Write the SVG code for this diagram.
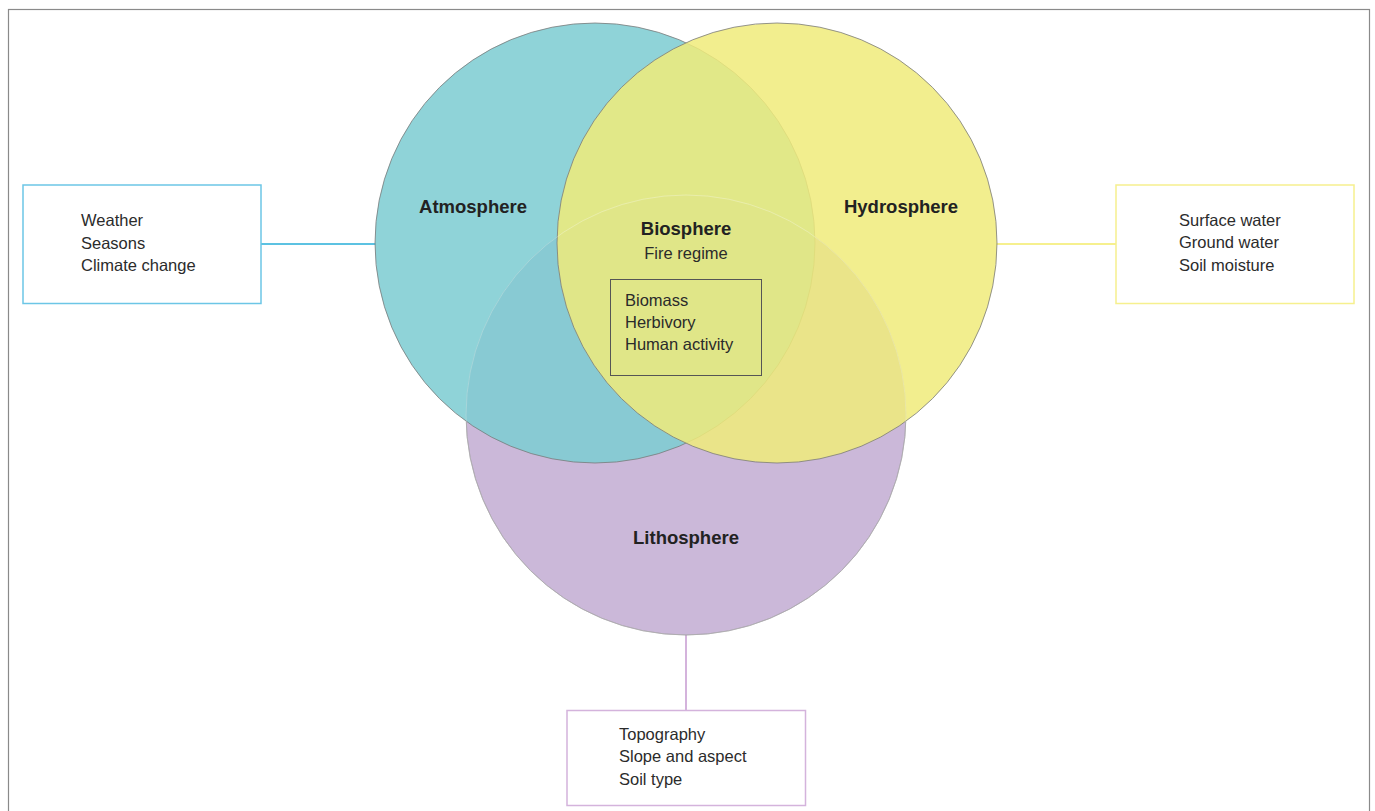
<svg xmlns="http://www.w3.org/2000/svg" width="1375" height="811" viewBox="0 0 1375 811">
<style>
.t{font-family:"Liberation Sans",Arial,sans-serif;font-size:16.5px;fill:#2b2b2b}
.b{font-family:"Liberation Sans",Arial,sans-serif;font-size:18.5px;font-weight:bold;fill:#222;text-anchor:middle}
.c{stroke:#7a7a7a;stroke-width:0.8}
</style>
<rect x="8.5" y="9.5" width="1361" height="830" fill="#fff" stroke="#8a8a8a" stroke-width="1.2"/>
<g id="connectors" fill="none" stroke-width="2">
<line x1="261" y1="244" x2="376" y2="244" stroke="#5cc2e2"/>
<line x1="996" y1="244" x2="1116" y2="244" stroke="#f6f08e"/>
<line x1="686" y1="634" x2="686" y2="710" stroke="#d4b3dc"/>
</g>
<g id="lithosphere">
<circle cx="686" cy="415" r="220" fill="#cbb8d9" class="c"/>
</g>
<g id="atmosphere">
<circle cx="595" cy="243" r="220" fill="#7ecdd2" fill-opacity="0.87" class="c"/>
</g>
<g id="hydrosphere">
<circle cx="777" cy="243" r="220" fill="#f0eb7a" fill-opacity="0.85" class="c"/>
</g>
<circle cx="686" cy="415" r="220" fill="none" stroke="#ffffff" stroke-opacity="0.3" stroke-width="1"/>
<g id="labels">
<text class="b" x="473" y="213">Atmosphere</text>
<text class="b" x="901" y="213">Hydrosphere</text>
<text class="b" x="686" y="544">Lithosphere</text>
</g>
<g id="biosphere">
<text class="b" x="686" y="235">Biosphere</text>
<text class="t" x="686" y="259" text-anchor="middle">Fire regime</text>
<rect x="610.5" y="279.5" width="151" height="96" fill="none" stroke="#555" stroke-width="1"/>
<text class="t" x="625" y="306">Biomass</text>
<text class="t" x="625" y="328">Herbivory</text>
<text class="t" x="625" y="350">Human activity</text>
</g>
<g id="atmosphere-box">
<rect x="23" y="185" width="238" height="118.5" fill="#fff" stroke="#6cc6e6" stroke-width="1.5"/>
<text class="t" x="81" y="226">Weather</text>
<text class="t" x="81" y="248.5">Seasons</text>
<text class="t" x="81" y="271">Climate change</text>
</g>
<g id="hydrosphere-box">
<rect x="1116" y="185" width="238" height="118.5" fill="#fff" stroke="#f6f08e" stroke-width="1.5"/>
<text class="t" x="1179" y="226">Surface water</text>
<text class="t" x="1179" y="248">Ground water</text>
<text class="t" x="1179" y="270.5">Soil moisture</text>
</g>
<g id="lithosphere-box">
<rect x="567" y="710.5" width="238.5" height="95" fill="#fff" stroke="#d4b3dc" stroke-width="1.5"/>
<text class="t" x="619" y="740">Topography</text>
<text class="t" x="619" y="762">Slope and aspect</text>
<text class="t" x="619" y="784.5">Soil type</text>
</g>
</svg>
